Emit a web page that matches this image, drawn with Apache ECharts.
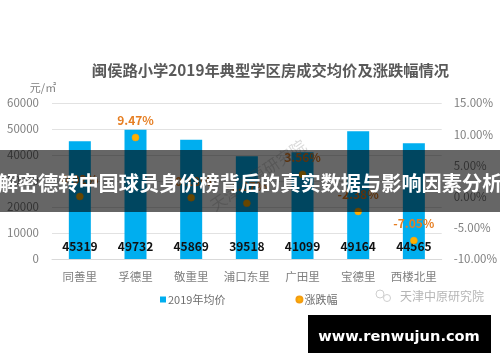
<!DOCTYPE html>
<html>
<head>
<meta charset="utf-8">
<style>
html, body { margin: 0; padding: 0; background: #fff; }
#chart { width: 500px; height: 362px; }
</style>
<script src="https://cdn.jsdelivr.net/npm/echarts@6/dist/echarts.min.js"></script>
</head>
<body>
<div id="chart"></div>
<script>
var categories = ['同善里', '孚德里', '敬重里', '浦口东里', '广田里', '宝德里', '西楼北里'];
var avgPrice = [45319, 49732, 45869, 39518, 41099, 49164, 44565];
var changeRate = [0.02, 9.47, -0.18, -1.07, 3.56, -2.38, -7.05];
var titleText = '闽侯路小学2019年典型学区房成交均价及涨跌幅情况';
var bannerText = '解密德转中国球员身价榜背后的真实数据与影响因素分析';
var watermarkText = '天津中原研究院';
var siteText = 'www.renwujun.com';

var fontCn = '"Noto Sans CJK SC", "Noto Sans", sans-serif';
var gray = '#7f7f7f';

var myChart = echarts.init(document.getElementById('chart'));

var option = {
	animation: false,
	backgroundColor: '#fff',
	textStyle: { fontFamily: fontCn },
	title: {
		text: titleText,
		left: 265.5,
		top: 58,
		textAlign: 'center',
		textStyle: { fontSize: 15.3, fontWeight: 'bold', color: '#595959', fontFamily: fontCn }
	},
	legend: {
		left: 155,
		top: 289,
		itemWidth: 6,
		itemHeight: 6,
		itemGap: 70,
		textStyle: { fontSize: 11, color: '#6e6e6e', padding: [0, 0, 0, -3] },
		data: [
			{ name: '2019年均价', icon: 'rect' },
			{ name: '涨跌幅', icon: 'circle' }
		]
	},
	grid: { left: 52, right: 56, top: 103, bottom: 103 },
	xAxis: {
		type: 'category',
		data: categories,
		axisTick: { show: false },
		axisLine: { lineStyle: { color: '#d9d9d9' } },
		axisLabel: { color: gray, fontSize: 11.5, margin: 12, interval: 0 }
	},
	yAxis: [{
		type: 'value',
		min: 0,
		max: 60000,
		interval: 10000,
		name: '元/㎡',
		nameGap: 10,
		nameTextStyle: { color: gray, fontSize: 11, align: 'center', padding: [0, 18, 0, 0] },
		axisLine: { show: false },
		axisTick: { show: false },
		axisLabel: {
			color: gray,
			fontSize: 11.5,
			margin: 13,
			formatter: function(v) {
				return String(v);
			}
		},
		splitLine: { lineStyle: { color: '#e2e2e2' } }
	}, {
		type: 'value',
		min: -10,
		max: 15,
		interval: 5,
		axisLine: { show: false },
		axisTick: { show: false },
		axisLabel: {
			color: gray,
			fontSize: 11.5,
			margin: 12,
			formatter: function(v) {
				return v.toFixed(2) + '%';
			}
		},
		splitLine: { show: false }
	}],
	series: [{
		name: '2019年均价',
		type: 'bar',
		data: avgPrice,
		barWidth: 22,
		itemStyle: { color: '#00aeef' },
		label: {
			show: true,
			position: 'insideBottom',
			distance: 7,
			color: '#111',
			fontSize: 12,
			fontWeight: 'bold'
		}
	}, {
		name: '涨跌幅',
		type: 'line',
		yAxisIndex: 1,
		data: changeRate,
		symbol: 'circle',
		symbolSize: 7,
		lineStyle: { opacity: 0, width: 0 },
		itemStyle: { color: '#ffb000', borderColor: '#f39c12', borderWidth: 0.5 },
		label: {
			show: true,
			position: 'top',
			distance: 7,
			color: '#e67e22',
			fontSize: 12,
			fontWeight: 'bold',
			formatter: function(p) {
				return p.value.toFixed(2) + '%';
			}
		}
	}],
	graphic: [
		{
			type: 'text',
			x: 258,
			y: 175,
			rotation: 0.6,
			z: 50,
			style: {
				text: watermarkText,
				fill: 'rgba(150,150,150,0.35)',
				font: '16px ' + fontCn,
				align: 'center',
				verticalAlign: 'middle'
			}
		},
		{
			type: 'circle',
			shape: { cx: 380, cy: 294, r: 4 },
			z: 50,
			style: { fill: 'none', stroke: '#cfcfcf', lineWidth: 1 }
		},
		{
			type: 'circle',
			shape: { cx: 387, cy: 298, r: 3.5 },
			z: 50,
			style: { fill: 'none', stroke: '#cfcfcf', lineWidth: 1 }
		},
		{
			type: 'text',
			x: 400,
			y: 296,
			z: 50,
			style: {
				text: watermarkText,
				fill: '#b5b5b5',
				font: '12px ' + fontCn,
				verticalAlign: 'middle'
			}
		},
		{
			type: 'rect',
			shape: { x: 0, y: 150, width: 500, height: 62 },
			z: 100,
			style: { fill: 'rgba(0,0,0,0.6)' }
		},
		{
			type: 'text',
			x: 250,
			y: 183,
			z: 101,
			style: {
				text: bannerText,
				fill: '#fff',
				font: 'bold 20.2px ' + fontCn,
				align: 'center',
				verticalAlign: 'middle'
			}
		},
		{
			type: 'rect',
			shape: { x: 308, y: 315, width: 183, height: 38 },
			z: 100,
			style: { fill: '#000' }
		},
		{
			type: 'text',
			x: 399,
			y: 337,
			z: 101,
			style: {
				text: siteText,
				fill: '#fff',
				font: 'bold 14.6px "DejaVu Sans", sans-serif',
				align: 'center',
				verticalAlign: 'middle'
			}
		}
	]
};

myChart.setOption(option);
</script>
</body>
</html>
